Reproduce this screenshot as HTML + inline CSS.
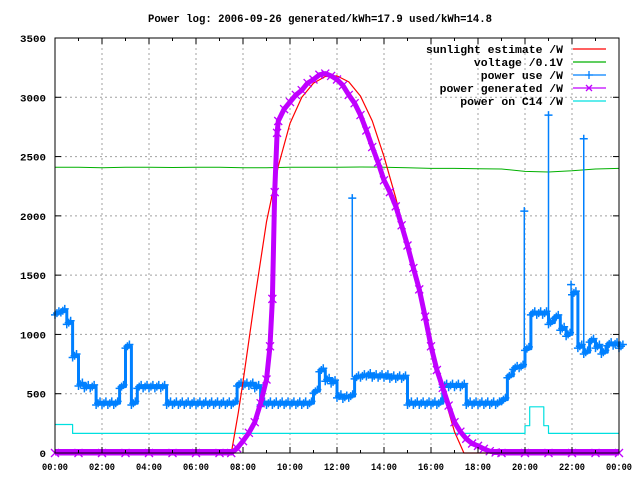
<!DOCTYPE html>
<html><head><meta charset="utf-8"><style>
html,body{margin:0;padding:0;background:#fff;}
svg{display:block;font-family:"Liberation Mono",monospace;font-weight:bold;}
</style></head><body>
<svg id="chart" width="640" height="480" viewBox="0 0 640 480" xmlns="http://www.w3.org/2000/svg">
<rect width="640" height="480" fill="#fff"/>
<text x="320" y="22" text-anchor="middle" font-size="11" textLength="344" lengthAdjust="spacingAndGlyphs">Power log: 2006-09-26 generated/kWh=17.9 used/kWh=14.8</text>
<g id="grid"></g>
<g id="series"></g>
<g id="axes"></g>
<g id="legend"></g>
</svg>
<script>
// ---- data ----
const xTickLabels = ["00:00","02:00","04:00","06:00","08:00","10:00","12:00","14:00","16:00","18:00","20:00","22:00","00:00"];
const yTickValues = [0,500,1000,1500,2000,2500,3000,3500];
// sunlight estimate (hours, W)
const sunTimes = [0,7.5,7.8,8.0,8.5,9.0,9.5,10.0,10.5,11.0,11.5,12.0,12.5,13.0,13.5,14.0,14.5,15.0,15.5,16.0,16.5,17.0,17.4,24];
const sunValues = [0,0,340,600,1300,1950,2420,2780,3000,3120,3175,3180,3130,3010,2800,2500,2150,1760,1330,900,520,180,0,0];
// power generated (hours, W)
const genTimes = [0,1,2,3,4,5,6,7,7.5,7.75,8.0,8.25,8.5,8.75,9.0,9.15,9.25,9.35,9.45,9.5,9.75,10.0,10.25,10.5,10.75,11.0,11.25,11.5,11.75,12.0,12.25,12.5,12.75,13.0,13.25,13.5,13.75,14.0,14.25,14.5,14.75,15.0,15.25,15.5,15.75,16.0,16.25,16.5,16.75,17.0,17.25,17.5,17.75,18.0,18.25,18.5,18.75,19.0,20,21,22,23,24];
const genValues = [0,0,0,0,0,0,0,0,0,40,100,170,260,420,620,900,1300,2200,2700,2800,2900,2960,3020,3060,3120,3150,3190,3200,3180,3150,3100,3020,2950,2850,2720,2580,2450,2300,2200,2080,1920,1750,1560,1380,1150,900,700,550,400,260,180,120,80,60,35,15,5,0,0,0,0,0,0];
// voltage /0.1V (hourly)
const voltValues = [2410,2410,2405,2410,2410,2408,2410,2410,2405,2405,2410,2410,2410,2412,2410,2405,2400,2400,2398,2395,2375,2370,2380,2395,2400];
// power use /W every 15 minutes from 00:00 to 24:00
const useValues = [1180,1200,1100,820,580,560,560,420,420,420,420,560,900,420,560,560,560,560,560,420,
420,420,420,420,420,420,420,420,420,420,420,580,580,580,560,420,420,420,420,420,420,420,420,420,
520,700,620,600,480,470,480,640,650,660,650,650,650,640,640,640,420,420,420,420,420,420,570,570,570,570,
420,420,420,420,420,420,450,650,720,730,880,1180,1180,1180,1100,1150,1050,1000,1350,900,850,950,900,850,920,920,900];
const spikeTimes = [12.65,19.97,21.0,21.96,22.5];
const spikeValues = [2150,2040,2850,1420,2650];
// power on C14 /W step changes
const c14Times = [0,0.75,19.4,20.0,20.2,20.8,21.0,24];
const c14Values = [240,165,165,230,390,230,165,165];

// ---- scales ----
const X0=55, X1=619, Y0=453, Y1=38;
const xs = t => X0 + t*(X1-X0)/24;
const ys = v => Y0 - v*(Y0-Y1)/3500;
const NS="http://www.w3.org/2000/svg";
function mk(tag, parent, attrs){const e=document.createElementNS(NS,tag);for(const k in attrs)e.setAttribute(k,attrs[k]);parent.appendChild(e);return e;}
const grid=document.getElementById('grid'), axes=document.getElementById('axes'), series=document.getElementById('series'), legend=document.getElementById('legend');

// grid
for(let i=1;i<12;i++){const x=xs(i*2);
 const g=mk('line',grid,{x1:x,x2:x,y1:Y1,y2:Y0,stroke:'#a0a0a0','stroke-dasharray':'2,3','stroke-width':1});
 
 }
yTickValues.forEach(v=>{if(v===0||v===3500)return;const y=ys(v);
 const g=mk('line',grid,{x1:X0,x2:X1,y1:y,y2:y,stroke:'#a0a0a0','stroke-dasharray':'2,3','stroke-width':1});
 
 });

// axes frame and ticks
const fr=mk('rect',axes,{x:X0,y:Y1,width:X1-X0,height:Y0-Y1,fill:'none',stroke:'#000','stroke-width':1});


for(let h=0;h<=24;h++){const x=xs(h);const len=(h%2===0)?6:3;
 mk('line',axes,{x1:x,x2:x,y1:Y0,y2:Y0-len,stroke:'#000'});
 mk('line',axes,{x1:x,x2:x,y1:Y1,y2:Y1+len,stroke:'#000'});}
xTickLabels.forEach((lab,i)=>{const t=mk('text',axes,{x:xs(i*2),y:470,'text-anchor':'middle','font-size':'10',textLength:'26',lengthAdjust:'spacingAndGlyphs'});t.textContent=lab;
 
 });
yTickValues.forEach(v=>{const y=ys(v);
 mk('line',axes,{x1:X0,x2:X0+6,y1:y,y2:y,stroke:'#000'});
 mk('line',axes,{x1:X1,x2:X1-6,y1:y,y2:y,stroke:'#000'});
 const s=String(v);
 const t=mk('text',axes,{x:46,y:y+4,'text-anchor':'end','font-size':'10',textLength:String(s.length*6.5),lengthAdjust:'spacingAndGlyphs'});t.textContent=s;
 
 });

function poly(ts,vs,color,w,name){const pts=ts.map((t,i)=>xs(t).toFixed(1)+','+ys(vs[i]).toFixed(1)).join(' ');
 const p=mk('polyline',series,{points:pts,fill:'none',stroke:color,'stroke-width':w,'stroke-linejoin':'round'});
 
 return p;}

// voltage
poly(voltValues.map((_,i)=>i),voltValues,'#00b000',1,'voltage-line');
// c14 step
{const st=[],sv=[];c14Times.forEach((t,i)=>{if(i>0){st.push(t);sv.push(c14Values[i-1]);}st.push(t);sv.push(c14Values[i]);});
 poly(st,sv,'#00e0e0',1.2,'c14-line');}
// power use
const useTimes=useValues.map((_,i)=>i*0.25);
{const st=[],sv=[];useValues.forEach((v,i)=>{if(i>0){st.push(useTimes[i]);sv.push(useValues[i-1]);}st.push(useTimes[i]);sv.push(v);});
 poly(st,sv,'#0080ff',3,'power-use-line');}
const useG=mk('g',series,{stroke:'#0080ff','stroke-width':1.5});


useValues.forEach((v,i)=>{for(let k=0;k<3;k++){const x=xs(useTimes[i]+k*0.083),y=ys(v+(k-1)*15);
 const m=mk('path',useG,{d:`M${x-4},${y}h8M${x},${y-4}v8`});
 
 }});
spikeTimes.forEach((t,i)=>{const x=xs(t),base=ys(useValues[Math.round(t*4)]),y=ys(spikeValues[i]);
 const s=mk('path',useG,{d:`M${x},${base}V${y}M${x-4},${y}h8M${x},${y-4}v8`});
 
 });
// sunlight
poly(sunTimes,sunValues,'#ff0000',1.2,'sunlight-line');
// generated
poly(genTimes,genValues,'#c000ff',5,'power-generated-line');
const genG=mk('g',series,{stroke:'#c000ff','stroke-width':1.3});


genTimes.forEach((t,i)=>{const x=xs(t),y=ys(genValues[i]);
 const m=mk('path',genG,{d:`M${x-4},${y-4}l8,8M${x-4},${y+4}l8,-8`});
 
 });
// dense baseline markers at zero
const zg=mk('line',genG,{x1:X0,x2:xs(7.6),y1:Y0-1,y2:Y0-1,'stroke-width':6});


const zg2=mk('line',genG,{x1:xs(18.6),x2:X1,y1:Y0-1,y2:Y0-1,'stroke-width':6});



// legend
const legItems=[["sunlight estimate /W","#ff0000",""],["voltage /0.1V","#00b000",""],["power use /W","#0080ff","plus"],["power generated /W","#c000ff","x"],["power on C14 /W","#00e0e0",""]];
legItems.forEach((it,i)=>{const y=49+i*13;
 const t=mk('text',legend,{x:563,y:y+4,'text-anchor':'end','font-size':'11',textLength:String(it[0].length*6.85),lengthAdjust:'spacingAndGlyphs'});t.textContent=it[0];
 
 
 const l=mk('line',legend,{x1:573,x2:606,y1:y,y2:y,stroke:it[1],'stroke-width':1.2});
 
 
 if(it[2]==='plus')mk('path',legend,{d:`M585,${y}h8M589,${y-4}v8`,stroke:it[1],'stroke-width':1.3});
 if(it[2]==='x')mk('path',legend,{d:`M586,${y-3}l6,6M586,${y+3}l6,-6`,stroke:it[1],'stroke-width':1.3});
});
</script>
</body></html>
